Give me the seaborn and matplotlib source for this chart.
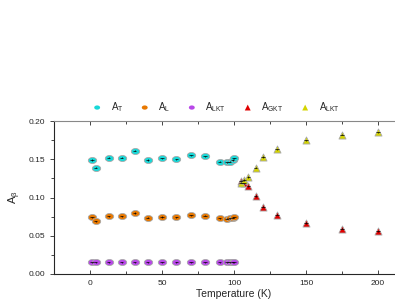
import matplotlib
matplotlib.use("Agg")
import matplotlib.pyplot as plt
from matplotlib.path import Path
import numpy as np
import pandas as pd
import seaborn as sns

# low temperature points (circles)
temp_low = [1.5, 4, 13, 22, 31, 40, 50, 60, 70, 80, 90, 95, 97, 99, 100]
a_t = [0.149, 0.139, 0.152, 0.152, 0.161, 0.149, 0.151, 0.150, 0.155, 0.154,
       0.147, 0.146, 0.147, 0.149, 0.151]
a_l = [0.074, 0.069, 0.0755, 0.0755, 0.0797, 0.0736, 0.0745, 0.0741, 0.0767,
       0.0763, 0.0728, 0.0724, 0.073, 0.0735, 0.0741]
a_lkt_low = [0.0153] * 15

# high temperature points (triangles)
temp_high = [105, 107, 110, 115, 120, 130, 150, 175, 200]
a_gkt = [0.122, 0.1185, 0.1146, 0.102, 0.088, 0.0775, 0.0667, 0.0593, 0.0558]
a_lkt_high = [0.1194, 0.1229, 0.1268, 0.139, 0.153, 0.163, 0.175, 0.182, 0.185]

labels = [r"$\mathregular{A_T}$", r"$\mathregular{A_L}$", r"$\mathregular{A_{LKT}}$",
          r"$\mathregular{A_{GKT}}$", r"$\mathregular{A_{LKT}}$"]
colors = ["#18d8d8", "#e87800", "#b848e8", "#e00000", "#d4d400"]

# flattened circle marker, like the original plot
th = np.linspace(0, 2 * np.pi, 40)
ellipse = Path(np.column_stack([np.cos(th), 0.72 * np.sin(th)]), closed=True)
markers = [ellipse, ellipse, ellipse, "^", "^"]

frames = []
for i, (t, v) in enumerate([(temp_low, a_t), (temp_low, a_l), (temp_low, a_lkt_low),
                            (temp_high, a_gkt), (temp_high, a_lkt_high)]):
    frames.append(pd.DataFrame({"T": t, "A": v, "series": labels[i], "idx": i}))
df = pd.concat(frames, ignore_index=True)

sns.set_style("ticks")
plt.rcParams["font.family"] = ["Liberation Sans", "DejaVu Sans"]
plt.rcParams["mathtext.fontset"] = "custom"
plt.rcParams["mathtext.rm"] = "Liberation Sans"

fig = plt.figure(figsize=(3.95, 3.0), dpi=100)
ax = fig.add_axes([54 / 395, 26 / 300, 360 / 395, 153 / 300])

handles = []
for i in range(5):
    sub = df[df["idx"] == i]
    ax.errorbar(sub["T"], sub["A"], xerr=1.2, yerr=0.0008, fmt="none",
                ecolor="black", elinewidth=0.5, zorder=3)
    sns.scatterplot(data=sub, x="T", y="A", ax=ax, color=colors[i],
                    marker=markers[i], s=36 if i < 3 else 26,
                    edgecolor="#a8a8a8", linewidth=0.6, zorder=2, legend=False)
    h = ax.scatter([], [], color=colors[i], marker=markers[i], s=18,
                   edgecolor="none")
    handles.append(h)

ax.set_xlim(-25, 225)
ax.set_ylim(0, 0.20)
ax.set_xticks([0, 50, 100, 150, 200])
ax.set_xticks([-25, 25, 75, 125, 175, 225], minor=True)
ax.set_yticks([0, 0.05, 0.10, 0.15, 0.20])
ax.set_yticks([0.025, 0.075, 0.125, 0.175], minor=True)
ax.set_yticklabels(["0.00", "0.05", "0.10", "0.15", "0.20"])
ax.tick_params(axis="x", which="both", direction="in", top=True, labelsize=6,
               length=3, width=0.6, pad=4)
ax.tick_params(axis="x", which="minor", length=2)
ax.tick_params(axis="y", which="both", direction="out", labelsize=6,
               length=3, width=0.6)
ax.tick_params(axis="y", which="minor", length=2)
for s in ax.spines.values():
    s.set_linewidth(0.8)
ax.spines["top"].set_color("#888888")

ax.set_xlabel("Temperature (K)", fontsize=7.5, labelpad=2)
ax.set_ylabel(r"$\mathregular{A_\beta}$", fontsize=8, labelpad=4)

fig.legend(handles, labels, loc="center", bbox_to_anchor=(216 / 395, 1 - 107 / 300),
           ncol=5, frameon=False, fontsize=7, handletextpad=0.9,
           columnspacing=1.7, handlelength=1.0)

fig.savefig("out.png", dpi=100)
